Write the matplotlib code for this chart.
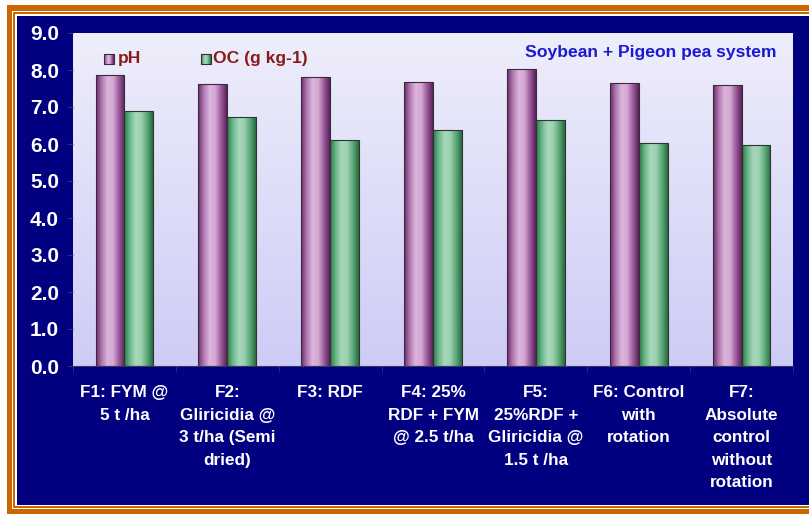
import numpy as np
import matplotlib.pyplot as plt
from matplotlib.colors import LinearSegmentedColormap
from matplotlib.patches import Rectangle

categories = ["F1: FYM @\n5 t /ha",
              "F2:\nGliricidia @\n3 t/ha (Semi\ndried)",
              "F3: RDF",
              "F4: 25%\nRDF + FYM\n@ 2.5 t/ha",
              "F5:\n25%RDF +\nGliricidia @\n1.5 t /ha",
              "F6: Control\nwith\nrotation",
              "F7:\nAbsolute\ncontrol\nwithout\nrotation"]
ph = [7.87, 7.63, 7.82, 7.68, 8.03, 7.65, 7.59]
oc = [6.90, 6.74, 6.12, 6.38, 6.65, 6.03, 5.98]
yticks = [0, 1, 2, 3, 4, 5, 6, 7, 8, 9]

W, H = 809, 514
navy = "#000080"
orange = "#cc6600"

# cylinder-like shading across each bar
ph_cmap = LinearSegmentedColormap.from_list(
    "ph", ["#6a2a6a", "#b07ab0", "#dcb4dc", "#d4a8d4", "#9a5a9a", "#5a205a"])
oc_cmap = LinearSegmentedColormap.from_list(
    "oc", ["#2a7a4a", "#6ab88a", "#a8d8bc", "#9cd0b0", "#5aa878", "#2a6a40"])
bg_cmap = LinearSegmentedColormap.from_list("bg", ["#ceccf6", "#eeeefb"])

fig = plt.figure(figsize=(W / 100, H / 100), dpi=100)
fig.patch.set_facecolor("white")


def px_rect(x0, y0, x1, y1, color):
    # rectangle in pixel coords (top-left origin)
    fig.patches.append(Rectangle((x0 / W, 1 - y1 / H), (x1 - x0) / W, (y1 - y0) / H,
                                 transform=fig.transFigure, facecolor=color,
                                 edgecolor="none", zorder=-5))


# orange double frame and navy panel
px_rect(7, 5, W, 11, orange)
px_rect(7, 5, 12, H, orange)
px_rect(7, 509, W, 514, orange)
px_rect(13, 12, W, 14, orange)
px_rect(13, 12, 15, 508, orange)
px_rect(13, 506, W, 508, orange)
px_rect(17, 16, W, 505, navy)

ax = fig.add_axes([73 / W, 1 - 366 / H, (793 - 73) / W, (366 - 33) / H])
ax.set_zorder(2)
ax.set_xlim(-0.5, len(categories) - 0.5)
ax.set_ylim(0, 9)

grad = np.linspace(0, 1, 256).reshape(-1, 1)
ax.imshow(grad, cmap=bg_cmap, aspect="auto", extent=[-0.5, len(categories) - 0.5, 0, 9],
          origin="lower", zorder=0)

x = np.arange(len(categories))
bw = 0.28
bars_ph = ax.bar(x - bw / 2, ph, bw, color="#c090c0", edgecolor="#3a2a3a", linewidth=0.8, zorder=2)
bars_oc = ax.bar(x + bw / 2, oc, bw, color="#80c09c", edgecolor="#2a3a2a", linewidth=0.8, zorder=2)

hgrad = np.linspace(0, 1, 128).reshape(1, -1)
for bars, cmap in [(bars_ph, ph_cmap), (bars_oc, oc_cmap)]:
    for b in bars:
        x0, w, h = b.get_x(), b.get_width(), b.get_height()
        im = ax.imshow(hgrad, cmap=cmap, aspect="auto", extent=[x0, x0 + w, 0, h], zorder=2.5)
        im.set_clip_path(b)
        b.set_facecolor("none")
        b.set_zorder(3)

ax.set_yticks(yticks)
ax.set_yticklabels([f"{v:.1f}" for v in yticks])
ax.set_xticks(x)
ax.set_xticklabels(categories)
ax.set_xticks(np.arange(-0.5, len(categories)), minor=True)
ax.tick_params(axis="x", which="major", length=0, pad=14)
ax.tick_params(axis="x", which="minor", length=4, color="#333366", direction="out")
ax.tick_params(axis="y", length=4, color="#333366", direction="out", pad=6)
for lab in ax.get_xticklabels() + ax.get_yticklabels():
    lab.set_color("white")
    lab.set_fontweight("bold")
    lab.set_fontfamily("Liberation Sans")
for lab in ax.get_yticklabels():
    lab.set_fontsize(15)
for lab in ax.get_xticklabels():
    lab.set_fontsize(12.3)
    lab.set_linespacing(1.62)
    lab.set_verticalalignment("top")

for side in ["top", "right", "left"]:
    ax.spines[side].set_visible(False)
ax.spines["bottom"].set_color("#333366")

# legend
for mx, tx, cmap, label in [(-0.2, -0.06, ph_cmap, "pH"), (0.742, 0.862, oc_cmap, "OC (g kg-1)")]:
    sq = Rectangle((mx, 8.16), 0.095, 0.27, facecolor="none", edgecolor="#3a2a3a",
                   linewidth=0.8, zorder=4)
    ax.add_patch(sq)
    im = ax.imshow(hgrad, cmap=cmap, aspect="auto", extent=[mx, mx + 0.095, 8.16, 8.43], zorder=3.5)
    im.set_clip_path(sq)
    ax.text(tx, 8.30, label, color="#8b1a1a", fontsize=12.6, fontweight="bold",
            family="Liberation Sans", va="center", ha="left", zorder=4)

ax.set_xlim(-0.5, len(categories) - 0.5)
ax.set_ylim(0, 9)

ax.text(0.9765, 0.94, "Soybean + Pigeon pea system", transform=ax.transAxes,
        color="#1a1ad0", fontsize=12.6, fontweight="bold", family="Liberation Sans",
        ha="right", va="center", zorder=4)

fig.savefig("out.png", dpi=100)
